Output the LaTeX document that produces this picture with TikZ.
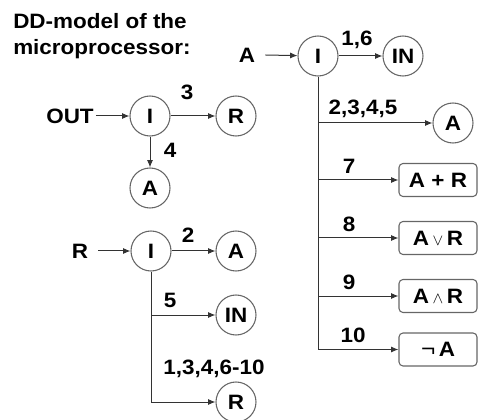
\documentclass[tikz,border=0pt]{standalone}
\usepackage{fontspec}
\setmainfont[FakeStretch=1.08]{Liberation Sans}
\usetikzlibrary{arrows.meta}
\begin{document}
\begin{tikzpicture}[x=0.75pt,y=-0.75pt,
  every node/.style={font=\fontsize{15.6}{18}\selectfont\bfseries},
  vert/.style={circle,draw=black!60,line width=0.8pt,minimum size=30pt,inner sep=0pt},
  opbox/.style={rounded corners=3pt,draw=black!60,line width=0.8pt,minimum width=58.5pt,minimum height=24.75pt,inner sep=0pt},
  lbl/.style={inner sep=0pt,anchor=base},
  txt/.style={inner sep=0pt},
  conn/.style={draw=black!80,line width=0.75pt,-{Latex[length=5.5pt,width=4.5pt]}},
  trunk/.style={draw=black!80,line width=0.75pt}]
\useasboundingbox (0,0) rectangle (478,420);

% title
\node[txt,anchor=base west] (t1) at (13,29) {DD-model of the};
\node[txt,anchor=base west] (t2) at (13,55) {microprocessor:};

% OUT graph
\node[txt] (out) at (70,116) {OUT};
\node[vert] (i1) at (150,116) {I};
\node[vert] (r1) at (236,116) {R};
\node[vert] (a1) at (150,188) {A};
\draw[conn] ([xshift=1.5pt]out.east) -- (i1);
\draw[conn] (i1) -- (r1);
\draw[conn] (i1) -- (a1);
\node[lbl] (l3) at (187,99.5) {3};
\node[lbl] (l4) at (170,157.5) {4};

% A graph
\node[txt] (ain) at (247,55) {A};
\node[vert] (i2) at (318,56) {I};
\node[vert] (in2) at (403,56) {IN};
\node[vert] (a2) at (453,123) {A};
\node[opbox] (b7) at (438,180) {A + R};
\node[opbox] (b8) at (438,238) {A\,{\fontsize{12}{14}\selectfont$\vee$}\,R};
\node[opbox] (b9) at (438,296) {A\,{\fontsize{12}{14}\selectfont$\wedge$}\,R};
\node[opbox] (b10) at (438,349.5) {{\mdseries\fontsize{17}{18}\selectfont ¬}\,A};
\coordinate (e2) at (318,350);
\draw[conn] ([xshift=7.5pt]ain.east) -- (i2);
\draw[conn] (i2) -- (in2);
\draw[trunk] (i2.south) -- (e2);
\draw[conn] (i2 |- a2) -- (a2);
\draw[conn] (i2 |- b7) -- (b7);
\draw[conn] (i2 |- b8) -- (b8);
\draw[conn] (i2 |- b9) -- (b9);
\draw[conn] (i2 |- b10) -- (b10);
\node[lbl] (l16) at (357,45.5) {1,6};
\node[lbl] (l2345) at (363,114.5) {2,3,4,5};
\node[lbl] (l7) at (349,173.5) {7};
\node[lbl] (l8) at (349,231.5) {8};
\node[lbl] (l9) at (349,289.5) {9};
\node[lbl] (l10) at (353,342.5) {10};

% R graph
\node[txt] (rin) at (80,251) {R};
\node[vert] (i3) at (151,251) {I};
\node[vert] (a3) at (236,251) {A};
\node[vert] (in3) at (236,315) {IN};
\node[vert] (r3) at (236,402) {R};
\draw[conn] ([xshift=7.5pt]rin.east) -- (i3);
\draw[conn] (i3) -- (a3);
\draw[trunk] (i3.south) -- (i3 |- r3);
\draw[conn] (i3 |- in3) -- (in3);
\draw[conn] (i3 |- r3) -- (r3);
\node[lbl] (l2) at (188,242.5) {2};
\node[lbl] (l5) at (170,307.5) {5};
\node[lbl] (l1310) at (214,374.5) {1,3,4,6-10};
\end{tikzpicture}
\end{document}
